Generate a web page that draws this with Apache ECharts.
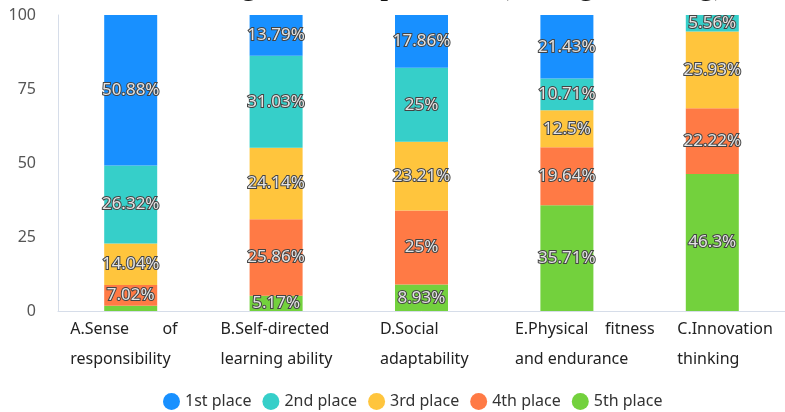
<!DOCTYPE html>
<html>
<head>
<meta charset="utf-8">
<script src="https://cdn.jsdelivr.net/npm/echarts@6/dist/echarts.min.js"></script>
<style>
  html, body { margin: 0; padding: 0; background: #fff; }
  #chart { width: 785px; height: 412px; }
</style>
</head>
<body>
<div id="chart"></div>
<script>
// Competence categories (in display order) and share of each ranking place, in %
const categories = [
  'A.Sense        of\nresponsibility',
  'B.Self-directed\nlearning ability',
  'D.Social\nadaptability',
  'E.Physical    fitness\nand endurance',
  'C.Innovation\nthinking'
];
const place1 = [50.88, 13.79, 17.86, 21.43, 0];
const place2 = [26.32, 31.03, 25, 10.71, 5.56];
const place3 = [14.04, 24.14, 23.21, 12.5, 25.93];
const place4 = [7.02, 25.86, 25, 19.64, 22.22];
const place5 = [1.74, 5.17, 8.93, 35.71, 46.3];
const placeNames = ['1st place', '2nd place', '3rd place', '4th place', '5th place'];
const yTicks = [0, 25, 50, 75, 100];

const colors = ['#1890ff', '#36cfc9', '#ffc53d', '#ff7a45', '#73d13d'];
// label box widths per category so the wrapped text starts where it should
const labelBoxW = [121, 111, 83, 104, 70];

const chart = echarts.init(document.getElementById('chart'));

const rich = {};
labelBoxW.forEach((w, i) => {
  rich['c' + i] = { width: w, align: 'left', lineHeight: 30, fontSize: 16,
    fontFamily: 'Noto Sans', color: '#222' };
});

const valueSets = [place1, place2, place3, place4, place5];
// stack from 5th place at the bottom up to 1st place on top
const series = [4, 3, 2, 1, 0].map(k => ({
  name: placeNames[k],
  type: 'bar',
  stack: 'rank',
  barWidth: 53,
  itemStyle: { color: colors[k] },
  label: {
    show: true,
    position: 'inside',
    fontSize: 17,
    fontFamily: 'Noto Sans',
    color: '#e4e4e4',
    textBorderColor: '#444',
    textBorderWidth: 2,
    formatter: p => (p.value >= 3 ? p.value + '%' : '')
  },
  data: valueSets[k]
}));

chart.setOption({
  animation: false,
  title: {
    text: 'Overall ranking of the importance (average ranking)',
    left: 50,
    top: -35,
    textStyle: { fontFamily: 'Liberation Serif', fontSize: 32, fontWeight: 'normal', color: '#111' }
  },
  grid: { left: 58, right: -7, top: 15, bottom: 101 },
  legend: {
    data: placeNames,
    left: 158,
    top: 388,
    icon: 'circle',
    itemWidth: 17,
    itemHeight: 17,
    itemGap: 11,
    textStyle: { fontSize: 16, fontFamily: 'Noto Sans', color: '#333' }
  },
  xAxis: {
    type: 'category',
    data: categories,
    axisLine: { lineStyle: { color: '#d6dde9' } },
    axisTick: { show: false },
    axisLabel: {
      interval: 0,
      margin: 3,
      formatter: (v, i) => v.split('\n').map(line => '{c' + i + '|' + line + '}').join('\n'),
      rich: rich
    }
  },
  yAxis: {
    type: 'value',
    min: yTicks[0],
    max: yTicks[yTicks.length - 1],
    interval: 25,
    axisLine: { show: true, lineStyle: { color: '#d6dde9' } },
    axisTick: { show: false },
    splitLine: { show: false },
    axisLabel: { margin: 22, fontSize: 16, fontFamily: 'Noto Sans', color: '#555' }
  },
  series: series
});
</script>
</body>
</html>
